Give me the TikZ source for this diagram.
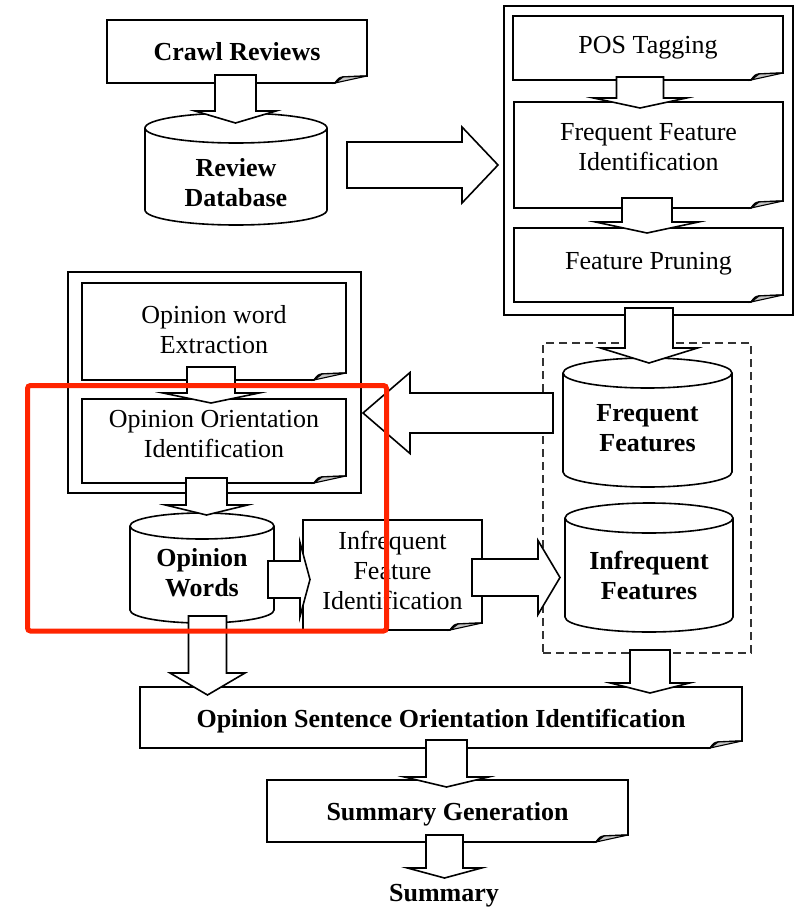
\documentclass[tikz,border=0pt]{standalone}
\usepackage{fontspec}
\setmainfont{Liberation Serif}
\usetikzlibrary{calc}

\definecolor{markred}{RGB}{255,36,0}

% dog-eared document outline around a frame node
\newcommand\docframe[1]{%
  \filldraw[docline] (#1.north west) -- (#1.north east) -- ($(#1.south east)+(0,7)$)
    -- ($(#1.south east)+(-24,6)$) .. controls ($(#1.south east)+(-28,5)$) .. ($(#1.south east)+(-32,0)$)
    -- (#1.south west) -- cycle;
  \filldraw[foldline] ($(#1.south east)+(-32,0)$) -- ($(#1.south east)+(-24,6)$)
    -- ($(#1.south east)+(0,7)$) -- cycle;}

% database cylinder filling a frame node: #2 x radius, #3 y radius of the end ellipses
\newcommand\cylframe[3]{%
  \filldraw[docline] ($(#1.north west)+(0,-#3)$) -- ($(#1.south west)+(0,#3)$)
    arc[start angle=180,end angle=360,x radius=#2pt,y radius=#3pt]
    -- ($(#1.north east)+(0,-#3)$)
    arc[start angle=0,end angle=180,x radius=#2pt,y radius=#3pt] -- cycle;
  \draw[docline] ($(#1.north west)+(0,-#3)$)
    arc[start angle=180,end angle=360,x radius=#2pt,y radius=#3pt];}

% block arrow pointing down: #1 start, #2 tip, #3 shaft half width, #4 head half width, #5 head length
\newcommand\vblock[5]{%
  \filldraw[blk] ($(#1)+(-#3,0)$) -- ($(#1)+(#3,0)$) -- ($(#2)+(#3,#5)$) -- ($(#2)+(#4,#5)$)
    -- (#2) -- ($(#2)+(-#4,#5)$) -- ($(#2)+(-#3,#5)$) -- cycle;}

% horizontal block arrow: #5 head length, negative for an arrow pointing left
\newcommand\hblock[5]{%
  \filldraw[blk] ($(#1)+(0,#3)$) -- ($(#2)+({-1*(#5)},#3)$) -- ($(#2)+({-1*(#5)},#4)$)
    -- (#2) -- ($(#2)+({-1*(#5)},-#4)$) -- ($(#2)+({-1*(#5)},-#3)$) -- ($(#1)+(0,-#3)$) -- cycle;}

\begin{document}
\begin{tikzpicture}[x=1pt,y=1pt,
  frame/.style={inner sep=0pt,outer sep=0pt,draw=none},
  docline/.style={draw=black,fill=white,line width=1.6pt,line join=miter},
  foldline/.style={draw=black,fill=gray!45,line width=1.1pt},
  blk/.style={draw=black,fill=white,line width=1.6pt,line join=miter},
  grp/.style={draw=black,line width=1.6pt},
  dgrp/.style={draw=black!80,line width=1.6pt,dash pattern=on 8pt off 5pt},
  txt/.style={align=center,inner sep=0pt,font=\fontsize{26}{30}\selectfont},
  btxt/.style={txt,font=\fontsize{26}{30}\selectfont\bfseries},
  redmark/.style={draw=markred,line width=5pt,rounded corners=3pt}]

\fill[white] (0,0) rectangle (796,-910);
\useasboundingbox (0,0) rectangle (796,-910);

% grouping frames
\node[frame,grp,minimum width=289pt,minimum height=309pt] (rgroup) at (648.5,-160.5) {};
\node[frame,grp,minimum width=293pt,minimum height=221pt] (lgroup) at (214.5,-382.5) {};
\node[frame,dgrp,minimum width=208pt,minimum height=310pt] (dgroup) at (647,-498) {};

% process steps
\node[frame,minimum width=260pt,minimum height=63pt] (crawl) at (237,-51.5) {};
\node[frame,minimum width=270pt,minimum height=64pt] (pos) at (648,-48) {};
\node[frame,minimum width=269pt,minimum height=106pt] (ffi) at (648.5,-155) {};
\node[frame,minimum width=269pt,minimum height=74pt] (fp) at (648.5,-265) {};
\node[frame,minimum width=264pt,minimum height=97pt] (owe) at (214,-331.5) {};
\node[frame,minimum width=264pt,minimum height=84pt] (ooi) at (214,-441) {};
\node[frame,minimum width=179pt,minimum height=110pt] (ifi) at (392.5,-575) {};
\node[frame,minimum width=602pt,minimum height=61pt] (osoi) at (441,-717.5) {};
\node[frame,minimum width=361pt,minimum height=62pt] (sg) at (447.5,-811) {};
\foreach \d in {crawl,pos,ffi,fp,owe,ooi,ifi,osoi,sg} {\docframe{\d}}

% data stores
\node[frame,minimum width=182pt,minimum height=112pt] (rdb) at (236,-169) {};
\node[frame,minimum width=169pt,minimum height=129pt] (ff) at (647.5,-422.5) {};
\node[frame,minimum width=168pt,minimum height=129pt] (inf) at (649,-567.5) {};
\node[frame,minimum width=144pt,minimum height=110pt] (ow) at (202,-568) {};
\cylframe{rdb}{91}{15}
\cylframe{ff}{84.5}{15}
\cylframe{inf}{84}{15}
\cylframe{ow}{72}{13}

% labels
\node[btxt] (crawl-t) at (crawl.center) {Crawl Reviews};
\node[txt] (pos-t) at ($(pos.center)+(0,0)$) {POS Tagging};
\node[txt] (ffi-t) at ($(ffi.center)+(0,8)$) {Frequent Feature\\Identification};
\node[txt] (fp-t) at ($(fp.center)+(0,1.5)$) {Feature Pruning};
\node[txt] (owe-t) at ($(owe.center)+(0,2)$) {Opinion word\\Extraction};
\node[txt] (ooi-t) at ($(ooi.center)+(0,7)$) {Opinion Orientation\\Identification};
\node[txt] (ifi-t) at ($(ifi.center)+(0,5)$) {Infrequent\\Feature\\Identification};
\node[btxt] (osoi-t) at ($(osoi.center)+(0,-3.5)$) {Opinion Sentence Orientation Identification};
\node[btxt] (sg-t) at ($(sg.center)+(0,-3.5)$) {Summary Generation};
\node[btxt] (rdb-t) at ($(rdb.center)+(0,-14)$) {Review\\Database};
\node[btxt] (ff-t) at ($(ff.center)+(0,-5.5)$) {Frequent\\Features};
\node[btxt] (inf-t) at ($(inf.center)+(0,-7.5)$) {Infrequent\\Features};
\node[btxt] (ow-t) at ($(ow.center)+(0,-5)$) {Opinion\\Words};
\node[btxt] (summary) at (444,-895.5) {Summary};

% arrow ends
\coordinate (a1s) at ($(crawl.south)+(-1.5,8)$);
\coordinate (a1t) at ($(crawl.south |- rdb.north)+(-1.5,-10)$);
\coordinate (a2s) at ($(pos.south)+(-8,3)$);
\coordinate (a2t) at ($(pos.south |- ffi.north)+(-8,-6)$);
\coordinate (a3s) at ($(ffi.south)+(-1.5,10)$);
\coordinate (a3t) at ($(ffi.south |- fp.north)+(-1.5,-5)$);
\coordinate (a4s) at ($(rgroup.south)+(0.5,7)$);
\coordinate (a4t) at ($(rgroup.south |- ff.north)+(0.5,-5)$);
\coordinate (a5s) at ($(owe.south)+(-3,13)$);
\coordinate (a5t) at ($(owe.south |- ooi.north)+(-3,-4)$);
\coordinate (a6s) at ($(ooi.south)+(-7.5,5)$);
\coordinate (a6t) at ($(ooi.south |- ow.north)+(-7.5,-2)$);
\coordinate (a7s) at ($(ow.south)+(5.5,7)$);
\coordinate (a7t) at ($(ow.south |- osoi.north)+(5.5,-8)$);
\coordinate (a8s) at ($(dgroup.south)+(3,3)$);
\coordinate (a8t) at ($(dgroup.south |- osoi.north)+(3,-6)$);
\coordinate (a9s) at ($(osoi.south)+(5.5,8)$);
\coordinate (a9t) at ($(osoi.south |- sg.north)+(5.5,-7)$);
\coordinate (a10s) at ($(sg.south)+(-3,7)$);
\coordinate (a10t) at ($(sg.south)+(-3,-36)$);
\coordinate (h1s) at ($(rdb.east)+(20,4)$);
\coordinate (h1t) at ($(h1s -| rgroup.west)+(-6,0)$);
\coordinate (h2s) at ($(ff.west)+(-10,9.5)$);
\coordinate (h2t) at ($(h2s -| lgroup.east)+(2,0)$);
\coordinate (h3s) at ($(ow.east)+(-6,-11.5)$);
\coordinate (h3t) at ($(h3s -| ifi.west)+(7,0)$);
\coordinate (h4s) at ($(ifi.east)+(-10,-2.5)$);
\coordinate (h4t) at ($(h4s -| inf.west)+(-5,0)$);

% flow arrows
\vblock{a1s}{a1t}{20.5}{40.5}{12}
\vblock{a2s}{a2t}{23.5}{46.5}{10}
\vblock{a3s}{a3t}{25}{51.5}{11}
\vblock{a4s}{a4t}{24}{48.5}{15}
\vblock{a5s}{a5t}{24}{48}{10}
\vblock{a6s}{a6t}{20.5}{41}{10}
\vblock{a7s}{a7t}{19}{37.5}{22}
\vblock{a8s}{a8t}{20}{39.5}{10}
\vblock{a9s}{a9t}{20.5}{42}{10}
\vblock{a10s}{a10t}{18.5}{37}{10}
\hblock{h1s}{h1t}{23}{38}{36}
\hblock{h2s}{h2t}{20}{40.5}{-47}
\hblock{h3s}{h3t}{18.5}{37}{10}
\hblock{h4s}{h4t}{18.5}{37}{22}

% highlight frame
\draw[redmark] (27.5,-385.5) rectangle (386.5,-631);
\end{tikzpicture}
\end{document}
